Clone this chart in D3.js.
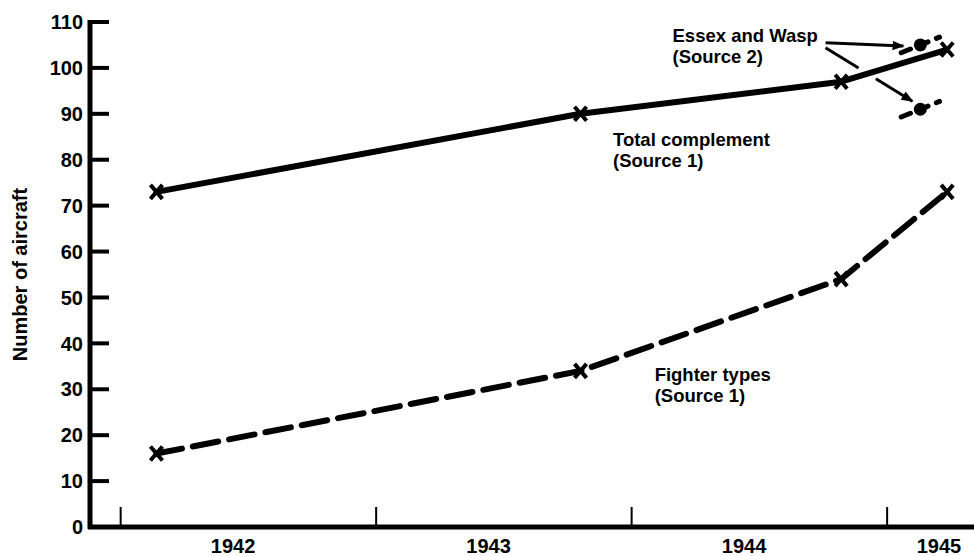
<!DOCTYPE html>
<html>
<head>
<meta charset="utf-8">
<script src="https://cdn.jsdelivr.net/npm/d3@7"></script>
<style>
  html, body { margin: 0; padding: 0; background: #fff; }
  svg { display: block; }
  text { font-family: "Liberation Sans", Arial, sans-serif; font-weight: bold; fill: #000; }
</style>
</head>
<body>
<svg id="chart" width="974" height="556"></svg>
<script>
// ---- data ----
const yearLabels = ["1942", "1943", "1944", "1945"];
const yearTicks = [1942, 1943, 1944, 1945];
const yTicks = [0, 10, 20, 30, 40, 50, 60, 70, 80, 90, 100, 110];
const dates = [1942.14, 1943.8, 1944.82, 1945.235];
const totalComplement = [73, 90, 97, 104];
const fighterTypes = [16, 34, 54, 73];
const essexDate = 1945.13;
const essexWasp = [105, 91];

// ---- layout ----
const W = 974, H = 556;
const svg = d3.select("#chart");
const x = d3.scaleLinear().domain([1941.88, 1945.34]).range([90, 974]);
const y = d3.scaleLinear().domain([0, 110]).range([527, 22]);

// axes
svg.append("line").attr("x1", x(1941.88)).attr("x2", x(1941.88))
  .attr("y1", y(110) - 2).attr("y2", y(0) + 2)
  .attr("stroke", "#000").attr("stroke-width", 5);
svg.append("line").attr("x1", x(1941.88) - 2).attr("x2", W)
  .attr("y1", y(0)).attr("y2", y(0))
  .attr("stroke", "#000").attr("stroke-width", 5);

// y ticks (inward) and labels
const yAxis = svg.append("g");
yAxis.selectAll("line.yt").data(yTicks).enter().append("line")
  .attr("x1", x(1941.88)).attr("x2", x(1941.88) + 19)
  .attr("y1", d => y(d)).attr("y2", d => y(d))
  .attr("stroke", "#000").attr("stroke-width", 4);
yAxis.selectAll("text").data(yTicks).enter().append("text")
  .attr("x", 83).attr("y", d => y(d)).attr("dy", "0.36em")
  .attr("text-anchor", "end").attr("font-size", 20)
  .text(d => d);

// x ticks (inward, thin) and labels
svg.selectAll("line.xt").data(yearTicks).enter().append("line")
  .attr("x1", d => x(d)).attr("x2", d => x(d))
  .attr("y1", y(0)).attr("y2", y(0) - 20)
  .attr("stroke", "#000").attr("stroke-width", 2);
svg.selectAll("text.xl").data(yearLabels).enter().append("text")
  .attr("x", (d, i) => Math.min(x(yearTicks[i] + 0.44), 939))
  .attr("y", 553).attr("text-anchor", "middle").attr("font-size", 20)
  .text(d => d);

// y axis title
svg.append("text")
  .attr("transform", `translate(27, ${(y(0) + y(110)) / 2}) rotate(-90)`)
  .attr("text-anchor", "middle").attr("font-size", 20)
  .text("Number of aircraft");

// ---- series ----
const line = d3.line().x(d => x(d[0])).y(d => y(d[1]));
const totalPts = dates.map((d, i) => [d, totalComplement[i]]);
const fighterPts = dates.map((d, i) => [d, fighterTypes[i]]);

svg.append("path").datum(totalPts).attr("d", line)
  .attr("fill", "none").attr("stroke", "#000").attr("stroke-width", 6)
  .attr("stroke-linejoin", "round");
svg.append("path").datum(fighterPts).attr("d", line)
  .attr("fill", "none").attr("stroke", "#000").attr("stroke-width", 6)
  .attr("stroke-dasharray", "26,11").attr("stroke-linecap", "round");

// x markers
const xMark = "M-6,-7L6,7M-6,7L6,-7";
svg.selectAll("path.mk").data(totalPts.concat(fighterPts)).enter().append("path")
  .attr("d", xMark).attr("transform", d => `translate(${x(d[0])},${y(d[1])})`)
  .attr("stroke", "#000").attr("stroke-width", 4).attr("fill", "none");

// Essex and Wasp points with short dashed segments
const essex = svg.append("g");
essexWasp.forEach(v => {
  essex.append("line")
    .attr("x1", x(essexDate - 0.075)).attr("y1", y(v - 1.7))
    .attr("x2", x(essexDate + 0.075)).attr("y2", y(v + 1.7))
    .attr("stroke", "#000").attr("stroke-width", 5)
    .attr("stroke-dasharray", "10,9").attr("stroke-linecap", "round");
  essex.append("circle").attr("cx", x(essexDate)).attr("cy", y(v)).attr("r", 6.5)
    .attr("fill", "#000");
});

// ---- annotations ----
function label(px, py, lines) {
  const t = svg.append("text").attr("x", px).attr("y", py).attr("font-size", 18.5);
  lines.forEach((s, i) => t.append("tspan").attr("x", px).attr("dy", i ? 21 : 0).text(s));
  return t;
}
label(x(1943.927), y(83), ["Total complement", "(Source 1)"]);
label(x(1944.09), y(31.8), ["Fighter types", "(Source 1)"]);
const essexLabel = label(x(1944.16), y(105.7), ["Essex and Wasp", "(Source 2)"]);

// arrowhead
svg.append("defs").append("marker").attr("id", "ah")
  .attr("viewBox", "0 0 10 10").attr("refX", 9).attr("refY", 5)
  .attr("markerWidth", 4).attr("markerHeight", 4).attr("markerUnits", "strokeWidth")
  .attr("orient", "auto")
  .append("path").attr("d", "M0,1L10,5L0,9Z").attr("fill", "#000");

const lb = essexLabel.node().getBBox();
const sx = lb.x + 150 + 3;
// arrow 1 -> upper point
svg.append("line")
  .attr("x1", sx).attr("y1", y(105.7) + 1)
  .attr("x2", x(essexDate) - 17).attr("y2", y(essexWasp[0]) + 1)
  .attr("stroke", "#000").attr("stroke-width", 3).attr("marker-end", "url(#ah)");
// arrow 2 -> lower point, interrupted where it crosses the total line
const S = [sx, y(105.7) + 6], E = [x(essexDate) - 8, y(essexWasp[1]) - 8];
const lerp = t => [S[0] + (E[0] - S[0]) * t, S[1] + (E[1] - S[1]) * t];
const a1 = lerp(0.38), a2 = lerp(0.58);
svg.append("line").attr("x1", S[0]).attr("y1", S[1]).attr("x2", a1[0]).attr("y2", a1[1])
  .attr("stroke", "#000").attr("stroke-width", 3);
svg.append("line").attr("x1", a2[0]).attr("y1", a2[1]).attr("x2", E[0]).attr("y2", E[1])
  .attr("stroke", "#000").attr("stroke-width", 3).attr("marker-end", "url(#ah)");
</script>
</body>
</html>
